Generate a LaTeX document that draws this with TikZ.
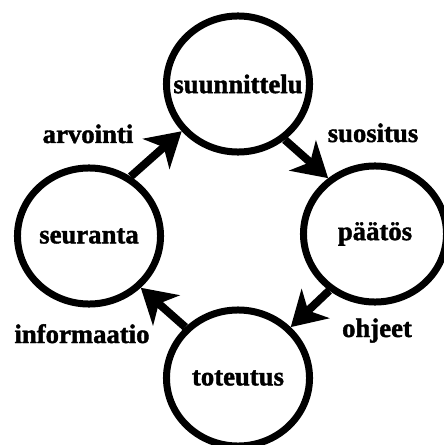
\documentclass[tikz,border=0pt]{standalone}
\usepackage{fontspec}
\setmainfont{Liberation Serif}[BoldFeatures={FakeBold=1.5}]
\usetikzlibrary{arrows.meta, shapes.geometric}

\begin{document}
\begin{tikzpicture}[
      x=0.025cm, y=-0.025cm,
      phase/.style={ellipse, draw=black, line width=1.75mm,
                    minimum width=3.575cm, minimum height=3.4cm, inner sep=0pt,
                    font=\bfseries\fontsize{19}{22}\selectfont},
      lbl/.style={anchor=base, inner sep=0pt, font=\bfseries\fontsize{19}{22}\selectfont},
      flow/.style={-{Stealth[length=8.5mm, width=10mm, inset=2.5mm]}, line width=2mm}
    ]
    \useasboundingbox (0,0) rectangle (443,445);
    \node[phase] (suunnittelu) at (238,84)  {\makebox[0pt]{suunnittelu}};
    \node[phase] (paatos)      at (375,234) {\makebox[0pt]{päätös}};
    \node[phase] (toteutus)    at (238,378) {\makebox[0pt]{toteutus}};
    \node[phase] (seuranta)    at (89,236)  {\makebox[0pt]{seuranta}};
    \draw[flow] (seuranta.55) -- (suunnittelu.220);
    \draw[flow] (suunnittelu.310) -- (paatos.130);
    \draw[flow] (paatos.231) -- (toteutus.44);
    \draw[flow] (toteutus.136) -- (seuranta.315);
    \node[lbl] (arvointi)    at (88,143)  {arvointi};
    \node[lbl] (suositus)    at (373,142) {suositus};
    \node[lbl] (informaatio) at (82,343)  {informaatio};
    \node[lbl] (ohjeet)      at (377,337) {ohjeet};
  \end{tikzpicture}
\end{document}
